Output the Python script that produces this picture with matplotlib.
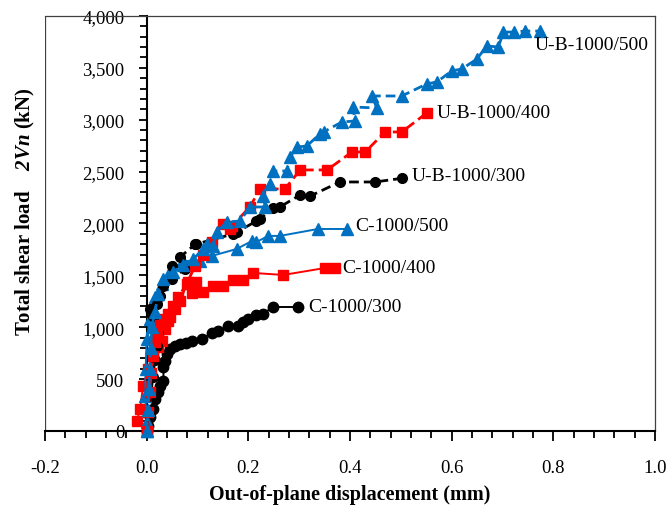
import matplotlib
matplotlib.use("Agg")
import matplotlib.pyplot as plt
from matplotlib.ticker import MultipleLocator, StrMethodFormatter

plt.rcParams['font.family'] = 'Liberation Serif'
plt.rcParams['axes.unicode_minus'] = False
plt.rcParams['mathtext.fontset'] = 'custom'
plt.rcParams['mathtext.rm'] = 'Liberation Serif'
plt.rcParams['mathtext.it'] = 'Liberation Serif:italic'
plt.rcParams['mathtext.bf'] = 'Liberation Serif:bold'
plt.rcParams['mathtext.bfit'] = 'Liberation Serif:italic:bold'

# ---- test data: out-of-plane displacement (mm) vs total shear load (kN) ----
# C-1000/300
cx300 = [0.000, 0.003, 0.007, 0.013, 0.016, 0.022, 0.026, 0.033, 0.033, 0.036, 0.040, 0.046,
         0.056, 0.066, 0.078, 0.090, 0.108, 0.128, 0.141, 0.160, 0.180, 0.190, 0.200, 0.216,
         0.229, 0.248, 0.298]
cy300 = [0, 48, 135, 212, 308, 376, 430, 482, 617, 675, 742, 790,
         815, 835, 850, 870, 890, 940, 960, 1010, 1015, 1055, 1080, 1115,
         1128, 1195, 1195]

# U-B-1000/300
ux300 = [0.000, 0.004, 0.008, 0.012, 0.016, 0.020, 0.023, 0.026, 0.013, 0.007, 0.020, 0.026,
         0.032, 0.050, 0.075, 0.050, 0.066, 0.096, 0.098, 0.170, 0.178, 0.216, 0.223, 0.249,
         0.262, 0.302, 0.322, 0.380, 0.449, 0.502]
uy300 = [0, 180, 350, 520, 680, 820, 950, 1080, 1108, 1180, 1224, 1301,
         1398, 1465, 1561, 1590, 1677, 1802, 1802, 1899, 1918, 2024, 2043, 2149,
         2159, 2275, 2265, 2400, 2400, 2435]

# C-1000/400
cx400 = [0.000, -0.019, -0.013, -0.007, 0.003, 0.013, 0.022, 0.030, 0.036, 0.042, 0.046, 0.056,
         0.066, 0.081, 0.089, 0.098, 0.110, 0.131, 0.150, 0.170, 0.190, 0.210, 0.269, 0.351,
         0.371]
cy400 = [0, 96, 212, 434, 598, 742, 810, 867, 983, 1060, 1099, 1176,
         1253, 1436, 1330, 1436, 1340, 1398, 1398, 1455, 1455, 1523, 1504, 1571,
         1571]

# U-B-1000/400
ux400 = [0.000, 0.003, 0.006, 0.009, 0.012, 0.016, 0.020, 0.026, 0.034, 0.042, 0.052, 0.062,
         0.079, 0.095, 0.110, 0.128, 0.150, 0.164, 0.168, 0.203, 0.223, 0.272, 0.302, 0.355,
         0.404, 0.430, 0.469, 0.502, 0.551]
uy400 = [0, 180, 380, 560, 720, 860, 950, 1020, 1080, 1130, 1200, 1290,
         1420, 1590, 1700, 1820, 1995, 1947, 1976, 2159, 2333, 2333, 2516, 2516,
         2689, 2689, 2882, 2882, 3065]

# C-1000/500
cx500 = [0.000, 0.001, -0.003, -0.002, 0.000, 0.006, 0.016, 0.030, 0.046, 0.072, 0.105, 0.128,
         0.177, 0.207, 0.216, 0.239, 0.262, 0.337, 0.394]
cy500 = [0, 87, 337, 598, 887, 1080, 1292, 1417, 1542, 1639, 1639, 1687,
         1754, 1831, 1821, 1880, 1880, 1947, 1947]

# U-B-1000/500
ux500 = [0.000, 0.002, 0.004, 0.006, 0.008, 0.010, 0.016, 0.023, 0.032, 0.052, 0.072, 0.092,
         0.111, 0.118, 0.131, 0.138, 0.158, 0.184, 0.203, 0.233, 0.229, 0.243, 0.249, 0.276,
         0.282, 0.296, 0.315, 0.341, 0.348, 0.384, 0.410, 0.406, 0.453, 0.443, 0.502, 0.551,
         0.571, 0.600, 0.620, 0.650, 0.669, 0.692, 0.702, 0.722, 0.745, 0.774]
uy500 = [0, 200, 400, 600, 800, 1000, 1150, 1320, 1465, 1533, 1600, 1658,
         1754, 1802, 1783, 1918, 2014, 2024, 2159, 2159, 2265, 2381, 2506, 2506,
         2641, 2737, 2747, 2863, 2882, 2978, 2988, 3123, 3113, 3229, 3229, 3345,
         3364, 3470, 3489, 3586, 3711, 3701, 3845, 3845, 3855, 3855]

BLACK = '#000000'
RED = '#FF0000'
BLUE = '#0070C0'

# (x, y, label, colour, marker, size, linestyle, label offset in px)
series = [
    (cx300, cy300, 'C-1000/300', BLACK, 'o', 7.5, '-', (10, 0)),
    (cx400, cy400, 'C-1000/400', RED, 's', 6.8, '-', (7, 0)),
    (cx500, cy500, 'C-1000/500', BLUE, '^', 8.5, '-', (8, 3)),
    (ux300, uy300, 'U-B-1000/300', BLACK, 'o', 7.0, '--', (10, 3)),
    (ux400, uy400, 'U-B-1000/400', RED, 's', 6.8, '--', (10, 0)),
    (ux500, uy500, 'U-B-1000/500', BLUE, '^', 8.5, '--', (-5, -13)),
]

fig = plt.figure(figsize=(6.68, 5.10), dpi=100)
ax = fig.add_axes([0.0674, 0.153, 0.913, 0.8137])

for x, y, name, col, mk, ms, ls, off in series:
    if ls == '--':
        ax.plot(x, y, color=col, marker=mk, markersize=ms, linestyle='--',
                linewidth=2.0, dashes=(3.5, 1.8), clip_on=False, zorder=3)
    else:
        ax.plot(x, y, color=col, marker=mk, markersize=ms, linestyle='-',
                linewidth=1.4, clip_on=False, zorder=3)
    ax.annotate(name, xy=(x[-1], y[-1]), xytext=off, textcoords='offset pixels',
                ha='left', va='center', fontsize=14)

xmin, xmax = -0.2, 1.0
ax.set_xlim(xmin, xmax)
ax.set_ylim(0, 4000)

# y axis sits on x = 0; the outer box is kept as a thin frame
ax.spines['left'].set_position(('data', 0))
ax.spines['left'].set_linewidth(1.5)
ax.spines['bottom'].set_linewidth(1.5)
for side in ('top', 'right'):
    ax.spines[side].set_linewidth(0.9)
    ax.spines[side].set_color('#404040')
ax.axvline(xmin, color='#404040', linewidth=0.9)

ax.xaxis.set_major_locator(MultipleLocator(0.2))
ax.xaxis.set_minor_locator(MultipleLocator(0.04))
ax.xaxis.set_major_formatter(StrMethodFormatter('{x:.1f}'))
ax.yaxis.set_major_locator(MultipleLocator(500))
ax.yaxis.set_minor_locator(MultipleLocator(100))
ax.yaxis.set_major_formatter(StrMethodFormatter('{x:,.0f}'))

ax.tick_params(axis='x', which='major', direction='out', length=7, width=1.3, pad=13, labelsize=13.5)
ax.tick_params(axis='x', which='minor', direction='out', length=5, width=1.3)
ax.tick_params(axis='y', which='major', direction='out', length=6, width=1.3, pad=10, labelsize=13.5)
ax.tick_params(axis='y', which='minor', direction='out', length=5, width=1.3)

ax.set_xlabel('Out-of-plane displacement (mm)', fontsize=14.5, fontweight='bold')
ax.xaxis.set_label_coords(0.5, -0.127)
ax.set_ylabel(r'Total shear load    $\mathbfit{2Vn}$ (kN)', fontsize=15, fontweight='bold')
ax.yaxis.set_label_coords(-0.013, 0.53)

fig.savefig('out.png', dpi=100, facecolor='white')
